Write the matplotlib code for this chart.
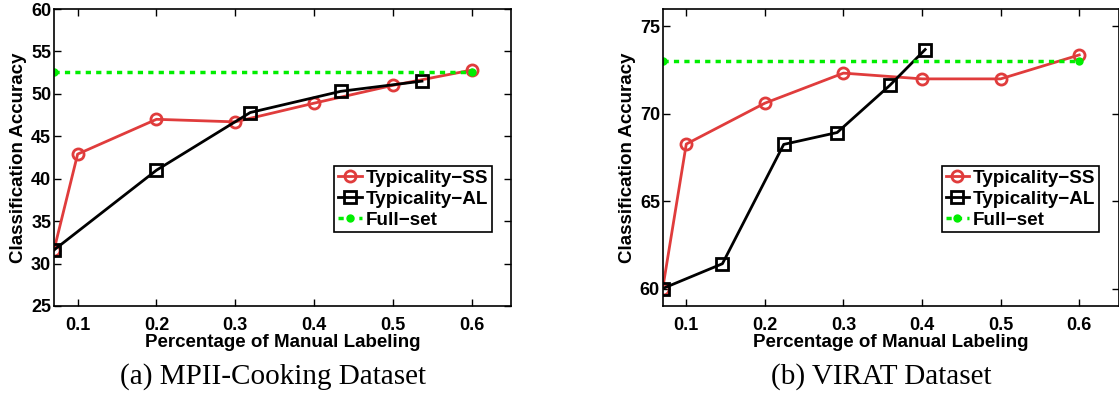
import matplotlib
matplotlib.use("Agg")
import matplotlib.pyplot as plt

# ---- data ----
ss_x_a = [0.07, 0.1, 0.2, 0.3, 0.4, 0.5, 0.6]
ss_y_a = [31.6, 42.9, 47.0, 46.7, 48.9, 51.0, 52.8]
al_x_a = [0.07, 0.2, 0.319, 0.434, 0.537]
al_y_a = [31.6, 41.0, 47.8, 50.3, 51.5]
full_x_a = [0.07, 0.6]
full_y_a = [52.6, 52.6]

ss_x_b = [0.07, 0.1, 0.2, 0.3, 0.4, 0.5, 0.6]
ss_y_b = [60.0, 68.27, 70.61, 72.33, 72.0, 72.0, 73.37]
al_x_b = [0.07, 0.146, 0.224, 0.292, 0.359, 0.404]
al_y_b = [60.0, 61.42, 68.25, 68.93, 71.63, 73.68]
full_x_b = [0.07, 0.6]
full_y_b = [73.0, 73.0]

xticks = [0.1, 0.2, 0.3, 0.4, 0.5, 0.6]
yticks_a = [25, 30, 35, 40, 45, 50, 55, 60]
yticks_b = [60, 65, 70, 75]
labels = ["Typicality\u2212SS", "Typicality\u2212AL", "Full\u2212set"]
captions = ["(a) MPII-Cooking Dataset", "(b) VIRAT Dataset"]

RED = "#E03C3C"
GREEN = "#00EE00"

plt.rcParams["font.family"] = ["Liberation Sans", "DejaVu Sans"]
plt.rcParams["font.weight"] = "bold"

W, H = 1119, 396
fig = plt.figure(figsize=(W / 100, H / 100), dpi=100)


def panel(rect, ssx, ssy, alx, aly, fx, fy, yt, ylim, cap, capx):
    ax = fig.add_axes(rect)
    ax.plot(ssx, ssy, color=RED, lw=2, marker="o", ms=8, mfc="none", mew=2, label=labels[0])
    ax.plot(alx, aly, color="black", lw=2, marker="s", ms=8, mfc="none", mew=2, label=labels[1])
    ax.plot(fx, fy, color=GREEN, lw=2.5, ls=(0, (1.5, 1.5)), marker="o", ms=5,
            mfc=GREEN, mec=GREEN, label=labels[2])
    ax.set_xlim(0.07, 0.65)
    ax.set_ylim(*ylim)
    ax.set_xticks(xticks)
    ax.set_xticklabels([str(t) for t in xticks])
    ax.set_yticks(yt)
    ax.tick_params(direction="in", top=True, right=True, length=5, width=1,
                   labelsize=13)
    ax.tick_params(axis="x", pad=8)
    ax.tick_params(axis="y", pad=2)
    for s in ax.spines.values():
        s.set_linewidth(1.2)
    ax.set_xlabel("Percentage of Manual Labeling", fontsize=13.5, fontweight="bold", labelpad=0)
    ax.set_ylabel("Classification Accuracy", fontsize=13.5, fontweight="bold", labelpad=3)
    leg = ax.legend(loc="center right", bbox_to_anchor=(0.958, 0.36), fontsize=13.6,
                    numpoints=1, handlelength=1.25, handletextpad=0.2, borderpad=0.2,
                    labelspacing=0.2, fancybox=False, framealpha=1, borderaxespad=0)
    leg.get_frame().set_edgecolor("black")
    leg.get_frame().set_linewidth(1.2)
    fig.text(capx / W, 1 - 377 / H, cap, ha="center", va="center",
             fontsize=21, family="Liberation Serif", fontweight="normal")
    return ax


panel([54 / W, 90 / H, 457 / W, 297 / H], ss_x_a, ss_y_a, al_x_a, al_y_a, full_x_a, full_y_a,
      yticks_a, (25, 60), captions[0], 273)
panel([662.7 / W, 90 / H, 455.8 / W, 297 / H], ss_x_b, ss_y_b, al_x_b, al_y_b, full_x_b, full_y_b,
      yticks_b, (59, 76), captions[1], 881)

fig.savefig("out.png", dpi=100)
